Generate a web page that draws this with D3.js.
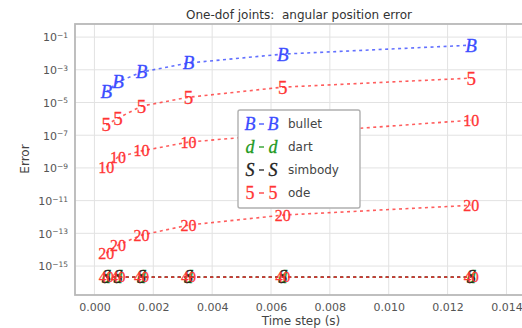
<!DOCTYPE html>
<html>
<head>
<meta charset="utf-8">
<script src="https://cdn.jsdelivr.net/npm/d3@7"></script>
<style>
  html, body { margin: 0; padding: 0; background: #fff; }
  svg { display: block; }
</style>
</head>
<body>
<svg id="chart" width="522" height="328"></svg>
<script>
// Time steps (s) shared by every run
const timeSteps = [0.0004, 0.0008, 0.0016, 0.0032, 0.0064, 0.0128];

// Angular position error per engine / solver setting
const bulletErr  = [4.4e-5, 1.8e-4, 7.3e-4, 2.6e-3, 9.1e-3, 3.2e-2];
const ode5Err    = [4.2e-7, 1.1e-6, 6.0e-6, 2.1e-5, 8.7e-5, 3.1e-4];
const ode10Err   = [1.1e-9, 4.6e-9, 1.1e-8, 3.8e-8, 1.2e-7, 8.3e-7];
const ode20Err   = [6.2e-15, 1.9e-14, 7.8e-14, 3.2e-13, 1.3e-12, 5.2e-12];
const ode40Err   = [2.1e-16, 2.1e-16, 2.1e-16, 2.1e-16, 2.1e-16, 2.1e-16];
const dartErr    = [2.1e-16, 2.1e-16, 2.1e-16, 2.1e-16, 2.1e-16, 2.1e-16];
const simbodyErr = [2.1e-16, 2.1e-16, 2.1e-16, 2.1e-16, 2.1e-16, 2.1e-16];

// Axis ticks
const xTicks = [0.000, 0.002, 0.004, 0.006, 0.008, 0.010, 0.012, 0.014];
const yTickExps = [-1, -3, -5, -7, -9, -11, -13, -15];

// Legend entries
const legendNames   = ["bullet", "dart", "simbody", "ode"];
const legendMarkers = ["B", "d", "S", "5"];

const BLUE = "#3b4cff", RED = "#ff3535", GREEN = "#1f9a1f", BLACK = "#222";

const series = [
  { values: dartErr,    marker: "d",  italic: true,  color: GREEN, size: 18 },
  { values: simbodyErr, marker: "S",  italic: true,  color: BLACK, size: 18 },
  { values: bulletErr,  marker: "B",  italic: true,  color: BLUE,  size: 19 },
  { values: ode5Err,    marker: "5",  italic: false, color: RED,   size: 19 },
  { values: ode10Err,   marker: "10", italic: false, color: RED,   size: 16 },
  { values: ode20Err,   marker: "20", italic: false, color: RED,   size: 16 },
  { values: ode40Err,   marker: "40", italic: false, color: RED,   size: 15 }
];

const svg = d3.select("#chart");
const plot = { left: 75, right: 530, top: 24, bottom: 295 };

const x = d3.scaleLinear().domain([-0.00066, 0.0148]).range([plot.left, plot.right]);
const y = d3.scaleLog().domain([Math.pow(10, -16.77), Math.pow(10, -0.2)]).range([plot.bottom, plot.top]);

// Grid
const grid = svg.append("g");
grid.selectAll("line.vx").data(xTicks).join("line")
  .attr("x1", d => x(d)).attr("x2", d => x(d))
  .attr("y1", plot.top).attr("y2", plot.bottom)
  .attr("stroke", "#e2e2e2").attr("stroke-width", 1);
grid.selectAll("line.hy").data(yTickExps).join("line")
  .attr("x1", plot.left).attr("x2", plot.right)
  .attr("y1", d => y(Math.pow(10, d))).attr("y2", d => y(Math.pow(10, d)))
  .attr("stroke", "#e2e2e2").attr("stroke-width", 1);

// Axes (labels only; the frame is drawn separately)
const xAxis = d3.axisBottom(x).tickValues(xTicks).tickFormat(d3.format(".3f")).tickSize(0).tickPadding(8);
const gx = svg.append("g").attr("transform", `translate(0,${plot.bottom})`).call(xAxis);
gx.select(".domain").remove();
gx.selectAll("text").attr("fill", "#555").style("font-family", "DejaVu Sans").style("font-size", "11px");

const yAxis = d3.axisLeft(y).tickValues(yTickExps.map(e => Math.pow(10, e))).tickFormat("").tickSize(0);
const gy = svg.append("g").attr("transform", `translate(${plot.left},0)`).call(yAxis);
gy.select(".domain").remove();
gy.selectAll(".tick").each(function (d) {
  const t = d3.select(this).append("text")
    .attr("x", -7).attr("dy", "0.35em").attr("text-anchor", "end")
    .attr("fill", "#555").style("font-family", "DejaVu Sans").style("font-size", "11px");
  t.append("tspan").text("10");
  t.append("tspan").attr("dy", "-0.45em").style("font-size", "7.5px")
    .text("\u2212" + Math.abs(Math.round(Math.log10(d))));
});

// Frame
svg.append("rect")
  .attr("x", plot.left).attr("y", plot.top)
  .attr("width", plot.right - plot.left).attr("height", plot.bottom - plot.top)
  .attr("fill", "none").attr("stroke", "#b8b8b8").attr("stroke-width", 1.8);

// Series: dashed lines then text markers
const line = d3.line().x(d => x(d[0])).y(d => y(d[1]));
const marks = svg.append("g");

series.forEach(s => {
  const pts = timeSteps.map((t, i) => [t, s.values[i]]);
  marks.append("path").datum(pts)
    .attr("d", line).attr("fill", "none")
    .attr("stroke", s.color).attr("stroke-width", 1.6)
    .attr("stroke-dasharray", "3,3.5").attr("opacity", 0.8);
  marks.selectAll(null).data(pts).join("text")
    .attr("x", d => x(d[0])).attr("y", d => y(d[1]))
    .attr("text-anchor", "middle").attr("dy", "0.34em")
    .attr("fill", s.color)
    .attr("stroke", s.color).attr("stroke-width", 0.3)
    .style("font-family", "Liberation Serif")
    .style("font-style", s.italic ? "italic" : "normal")
    .style("font-size", s.size + "px")
    .text(s.marker);
});

// Legend
const leg = svg.append("g");
leg.append("rect")
  .attr("x", 238).attr("y", 110).attr("width", 122).attr("height", 98)
  .attr("rx", 2).attr("fill", "#fff").attr("stroke", "#b0b0b0").attr("stroke-width", 1.4);

const legendColors = [BLUE, GREEN, BLACK, RED];
legendNames.forEach((name, i) => {
  const cy = 124 + i * 23;
  const italic = legendMarkers[i] !== "5";
  leg.append("line")
    .attr("x1", 259).attr("x2", 264).attr("y1", cy).attr("y2", cy)
    .attr("stroke", legendColors[i]).attr("stroke-width", 1.6).attr("opacity", 0.8);
  [250, 273].forEach(cx => {
    leg.append("text")
      .attr("x", cx).attr("y", cy).attr("dy", "0.34em").attr("text-anchor", "middle")
      .attr("fill", legendColors[i])
      .attr("stroke", legendColors[i]).attr("stroke-width", 0.3)
      .style("font-family", "Liberation Serif")
      .style("font-style", italic ? "italic" : "normal")
      .style("font-size", "18px")
      .text(legendMarkers[i]);
  });
  leg.append("text")
    .attr("x", 288).attr("y", cy).attr("dy", "0.35em")
    .attr("fill", "#444").style("font-family", "DejaVu Sans").style("font-size", "12px")
    .text(name);
});

// Title and axis labels
svg.append("text")
  .attr("x", 299).attr("y", 19).attr("text-anchor", "middle")
  .attr("fill", "#333").style("font-family", "DejaVu Sans").style("font-size", "12px")
  .style("white-space", "pre")
  .text("One-dof joints:  angular position error");

svg.append("text")
  .attr("x", 301).attr("y", 325).attr("text-anchor", "middle")
  .attr("fill", "#444").style("font-family", "DejaVu Sans").style("font-size", "12px")
  .text("Time step (s)");

svg.append("text")
  .attr("transform", "translate(29,159) rotate(-90)").attr("text-anchor", "middle")
  .attr("fill", "#444").style("font-family", "DejaVu Sans").style("font-size", "12px")
  .text("Error");
</script>
</body>
</html>
